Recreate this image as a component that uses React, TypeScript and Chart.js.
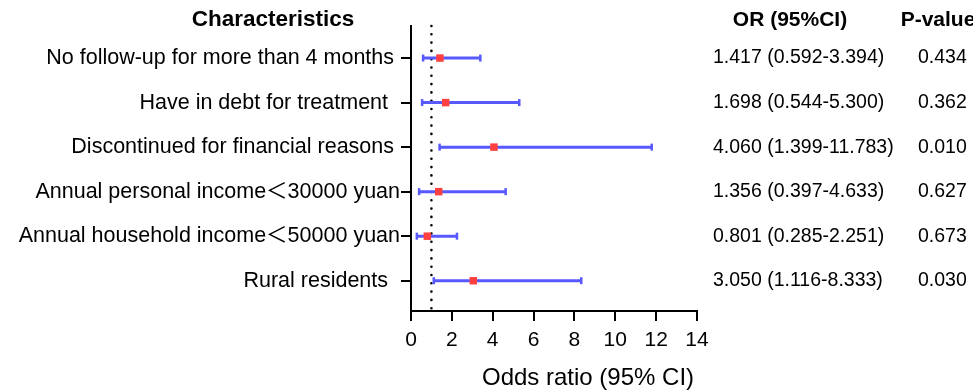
import React, { useEffect, useRef } from "react";
import { Chart, registerables } from "chart.js";

Chart.register(...registerables);

const characteristics = [
  "No follow-up for more than 4 months ",
  "Have in debt for treatment  ",
  "Discontinued for financial reasons ",
  "Annual personal income\uFF1C30000 yuan",
  "Annual household income\uFF1C50000 yuan",
  "Rural residents  ",
];
const oddsRatio = [1.417, 1.698, 4.06, 1.356, 0.801, 3.05];
const ciLower = [0.592, 0.544, 1.399, 0.397, 0.285, 1.116];
const ciUpper = [3.394, 5.3, 11.783, 4.633, 2.251, 8.333];
const orText = [
  "1.417 (0.592-3.394)",
  "1.698 (0.544-5.300)",
  "4.060 (1.399-11.783)",
  "1.356 (0.397-4.633)",
  "0.801 (0.285-2.251)",
  "3.050 (1.116-8.333)",
];
const pValues = ["0.434", "0.362", "0.010", "0.627", "0.673", "0.030"];
const xTicksMin = 0;
const xTicksMax = 14;
const referenceLine = 1;
const xTitle = "Odds ratio (95% CI)";

const FONT = "'Liberation Sans', Arial, Helvetica, 'Noto Sans CJK SC', sans-serif";
const BLUE = "rgb(88,88,255)";
const RED = "rgb(255,64,64)";

export default function App() {
  const ref = useRef<HTMLCanvasElement | null>(null);
  useEffect(() => {
    if (!ref.current) return;
    const rows = characteristics.map((_, i) => i + 1);
    const yMin = 0.28;
    const yMax = 6.68;

    const textPlugin = {
      id: "forestText",
      afterDraw(chart: any) {
        const ctx = chart.ctx;
        const ys = chart.scales.y;
        ctx.save();
        ctx.fillStyle = "#000";
        ctx.textBaseline = "middle";
        ctx.textAlign = "center";
        ctx.font = `bold 22.5px ${FONT}`;
        ctx.fillText("Characteristics", 273, 20);
        ctx.font = `bold 21px ${FONT}`;
        ctx.fillText("OR (95%CI)", 790, 20);
        ctx.fillText("P-value", 938, 20);
        ctx.font = `24px ${FONT}`;
        ctx.fillText(xTitle, 588, 378);
        ctx.font = `19.5px ${FONT}`;
        ctx.textAlign = "left";
        rows.forEach((r, i) => {
          const y = ys.getPixelForValue(r);
          ctx.fillText(orText[i], 713, y);
          ctx.fillText(pValues[i], 918, y);
        });
        ctx.restore();
      },
    };

    const errorSets = rows.map((r, i) => ({
      type: "line" as const,
      data: [
        { x: ciLower[i], y: r },
        { x: ciUpper[i], y: r },
      ],
      borderColor: BLUE,
      borderWidth: 3,
      pointStyle: "line",
      pointRotation: 90,
      pointRadius: 3.5,
      pointBorderWidth: 2.5,
      pointBorderColor: BLUE,
      pointBackgroundColor: BLUE,
      clip: false,
    }));

    const chart = new Chart(ref.current, {
      type: "scatter",
      data: {
        datasets: [
          {
            type: "scatter" as const,
            data: rows.map((r, i) => ({ x: oddsRatio[i], y: r })),
            pointStyle: "rect",
            pointRadius: 5.3,
            backgroundColor: RED,
            borderColor: RED,
            borderWidth: 0,
            clip: false,
          } as any,
          ...errorSets,
          {
            type: "line" as const,
            data: [
              { x: referenceLine, y: yMin },
              { x: referenceLine, y: yMax },
            ],
            borderColor: "#000",
            borderWidth: 2.6,
            borderDash: [0, 8.3],
            borderCapStyle: "round",
            pointRadius: 0,
            clip: false,
          },
        ],
      },
      options: {
        animation: false,
        responsive: true,
        maintainAspectRatio: false,
        layout: { padding: { left: 0, right: 276, top: 26, bottom: 0 } },
        plugins: {
          legend: { display: false },
          tooltip: { enabled: false },
        },
        scales: {
          x: {
            type: "linear",
            min: xTicksMin,
            max: xTicksMax,
            afterFit: (s: any) => {
              s.height = 80;
            },
            ticks: {
              stepSize: 2,
              color: "#000",
              font: { family: FONT, size: 21 },
              padding: 7,
            },
            grid: {
              drawOnChartArea: false,
              tickLength: 10,
              color: "#000",
              lineWidth: 2,
            },
            border: { color: "#000", width: 2 },
          },
          y: {
            type: "linear",
            reverse: true,
            min: yMin,
            max: yMax,
            afterFit: (s: any) => {
              s.width = 411;
            },
            afterBuildTicks: (s: any) => {
              s.ticks = rows.map((v) => ({ value: v }));
            },
            ticks: {
              color: "#000",
              font: { family: FONT, size: 21.5 },
              padding: 1,
              autoSkip: false,
              callback: (v: any) => characteristics[Math.round(Number(v)) - 1] ?? "",
            },
            grid: {
              drawOnChartArea: false,
              tickLength: 10,
              color: "#000",
              lineWidth: 2,
            },
            border: { color: "#000", width: 2 },
          },
        },
      },
      plugins: [textPlugin],
    } as any);
    return () => chart.destroy();
  }, []);

  return (
    <div style={{ position: "absolute", left: 0, top: 0, width: 973, height: 391, background: "#fff" }}>
      <canvas ref={ref} />
    </div>
  );
}
